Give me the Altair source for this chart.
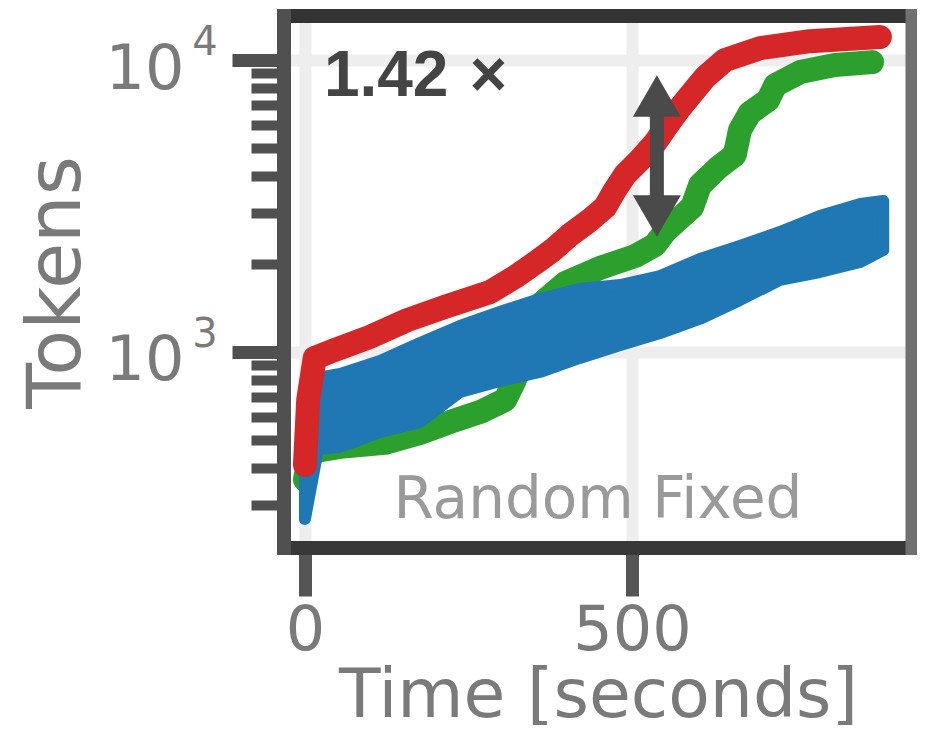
import altair as alt
import pandas as pd

# ---- data ----
red_t = [0, 5, 15, 46, 99, 157, 214, 283, 321, 352, 379, 405, 436, 459, 474, 489,
         512, 535, 554, 573, 593, 612, 642, 696, 772, 879]
red_tok = [410, 685, 954, 1016, 1126, 1287, 1427, 1605, 1806, 2018, 2235, 2516, 2832,
           3138, 3589, 4036, 4545, 5197, 5984, 6848, 7767, 8746, 10000, 10990, 11610, 11990]

green_t = [0, 8, 54, 122, 176, 222, 268, 306, 321, 332, 359, 398, 451, 505, 535, 550,
           570, 592, 604, 631, 657, 665, 680, 708, 719, 757, 810, 867]
green_tok = [365, 455, 473, 488, 528, 576, 623, 685, 802, 1099, 1449, 1723, 1940, 2132,
             2324, 2576, 2832, 3138, 3733, 4266, 4729, 5754, 6585, 7295, 8204, 9097, 9614, 9842]

blue_t = [0, 20, 54, 115, 176, 237, 298, 359, 420, 482, 543, 604, 665, 726, 787, 849, 884]
blue_upper = [741, 815, 841, 931, 1074, 1228, 1371, 1519, 1644, 1696, 1821, 2082, 2307,
              2576, 2924, 3214, 3289]
blue_lower = [268, 465, 473, 532, 576, 729, 796, 854, 954, 1057, 1161, 1300, 1507, 1765,
              1879, 2033, 2235]

arrow_t = [538]
arrow_top = [7530]
arrow_bot = [2924]

ratio_label = "1.42\u2004×"
ratio_pos = [29, 7530]
note_label = "Random Fixed"
note_pos = [448, 270]

x_ticks = [0, 500]
y_ticks = [300, 400, 500, 600, 700, 800, 900, 1000, 2000, 3000, 4000, 5000, 6000,
           7000, 8000, 9000, 10000]
y_major = [1000, 10000]
y_exp = ["3", "4"]

x_domain = [-32, 928]
y_domain = [213, 14160]

# ---- tables ----
red_df = pd.DataFrame({"t": red_t, "tok": red_tok})
green_df = pd.DataFrame({"t": green_t, "tok": green_tok})
blue_df = pd.DataFrame({"t": blue_t, "upper": blue_upper, "lower": blue_lower})
arrow_df = pd.DataFrame({"t": arrow_t, "top": arrow_top, "bot": arrow_bot})
exp_df = pd.DataFrame({"v": y_major, "e": y_exp})

x_scale = alt.Scale(domain=x_domain, nice=False, zero=False)
y_scale = alt.Scale(type="log", domain=y_domain, nice=False)

major = "datum.value == 1000 || datum.value == 10000"
FONT = "DejaVu Sans"
TXT = "#7a7a7a"

x_axis = alt.Axis(
    values=x_ticks, format="d", domain=False,
    tickSize=48, tickWidth=13, tickColor="#555555",
    labelFont=FONT, labelFontSize=62, labelColor=TXT, labelPadding=4,
    grid=True, gridColor="#eeeeee", gridWidth=12,
    title="Time [seconds]", titleFont=FONT, titleFontSize=68, titleFontWeight="normal",
    titleColor=TXT, titleY=168, titleBaseline="alphabetic",
)

y_axis = alt.Axis(
    values=y_ticks, domain=False,
    labelExpr="(" + major + ") ? '10' : ''",
    tickSize={"condition": {"test": major, "value": 52}, "value": 33},
    tickWidth={"condition": {"test": major, "value": 13}, "value": 10},
    tickColor="#505050",
    grid=True, gridColor="#eeeeee", gridWidth=12,
    gridOpacity={"condition": {"test": major, "value": 1}, "value": 0},
    labelFont=FONT, labelFontSize=62, labelColor=TXT, labelPadding=48,
    labelBaseline="alphabetic", labelOffset=28, labelAlign="right",
    title="Tokens", titleFont=FONT, titleFontSize=75, titleFontWeight="normal",
    titleColor=TXT, titleX=-205, titleY=266, titleAngle=270,
    titleBaseline="alphabetic", titleAlign="center",
)

X = alt.X("t:Q", scale=x_scale, axis=x_axis)

green = alt.Chart(green_df).mark_line(
    color="#2ca02c", strokeWidth=24, strokeCap="round", strokeJoin="round"
).encode(x=X, y=alt.Y("tok:Q", scale=y_scale, axis=y_axis))

blue = alt.Chart(blue_df).mark_area(
    color="#1f77b4", stroke="#1f77b4", strokeWidth=12, strokeJoin="round", opacity=1
).encode(x=alt.X("t:Q", scale=x_scale), y=alt.Y("upper:Q", scale=y_scale), y2="lower:Q")

red = alt.Chart(red_df).mark_line(
    color="#d62728", strokeWidth=24, strokeCap="round", strokeJoin="round"
).encode(x=alt.X("t:Q", scale=x_scale), y=alt.Y("tok:Q", scale=y_scale))

shaft = alt.Chart(arrow_df).mark_rule(color="#4a4a4a", strokeWidth=14).encode(
    x=alt.X("t:Q", scale=x_scale), y=alt.Y("top:Q", scale=y_scale), y2="bot:Q"
)
head_up = alt.Chart(arrow_df).mark_point(
    shape="triangle-up", filled=True, size=2304, color="#4a4a4a", opacity=1
).encode(x=alt.X("t:Q", scale=x_scale), y=alt.Y("top:Q", scale=y_scale))
head_down = alt.Chart(arrow_df).mark_point(
    shape="triangle-down", filled=True, size=2304, color="#4a4a4a", opacity=1
).encode(x=alt.X("t:Q", scale=x_scale), y=alt.Y("bot:Q", scale=y_scale))

ratio = alt.Chart(pd.DataFrame({"t": [ratio_pos[0]], "tok": [ratio_pos[1]], "s": [ratio_label]})).mark_text(
    font="Liberation Sans", fontWeight="bold", fontSize=64, color="#444444",
    align="left", baseline="alphabetic"
).encode(x=alt.X("t:Q", scale=x_scale), y=alt.Y("tok:Q", scale=y_scale), text="s:N")

note = alt.Chart(pd.DataFrame({"t": [note_pos[0]], "tok": [note_pos[1]], "s": [note_label]})).mark_text(
    font=FONT, fontSize=58, color="#9a9a9a", align="center", baseline="alphabetic"
).encode(x=alt.X("t:Q", scale=x_scale), y=alt.Y("tok:Q", scale=y_scale), text="s:N")

exps = alt.Chart(exp_df).mark_text(
    font=FONT, fontSize=40, color=TXT, align="center", baseline="alphabetic", dy=-5
).encode(x=alt.value(-79), y=alt.Y("v:Q", scale=y_scale), text="e:N")

one = alt.Data(values=[{}])
sp_top = alt.Chart(one).mark_rule(color="#333333", strokeWidth=14).encode(
    x=alt.value(-7), x2=alt.value(635), y=alt.value(0))
sp_bot = alt.Chart(one).mark_rule(color="#383838", strokeWidth=14).encode(
    x=alt.value(-7), x2=alt.value(635), y=alt.value(532))
sp_left = alt.Chart(one).mark_rule(color="#505050", strokeWidth=14).encode(
    x=alt.value(0), y=alt.value(-7), y2=alt.value(539))
sp_right = alt.Chart(one).mark_rule(color="#707070", strokeWidth=13).encode(
    x=alt.value(628), y=alt.value(-7), y2=alt.value(539))

chart = alt.layer(
    green, blue, red, shaft, head_up, head_down, ratio, note, exps,
    sp_top, sp_bot, sp_left, sp_right
).properties(
    width=628, height=532,
    padding={"left": 276, "top": 8, "right": 5, "bottom": 177},
    autosize=alt.AutoSizeParams(type="none"),
).configure_view(stroke=None)

chart.save("out.html", embed_options={"renderer": "svg", "actions": False})
